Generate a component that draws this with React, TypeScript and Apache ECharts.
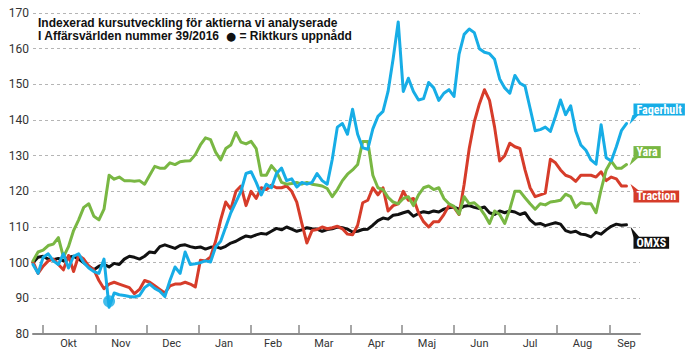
import React, { useEffect, useRef } from "react";
import * as echarts from "echarts";

const DAY = 86400000;
const d = (s: string) => {
  const [y, m, dd] = s.split("-").map(Number);
  return Date.UTC(y, m - 1, dd);
};

// sampling grid: one reading every 3 days from 25 Sep 2016
const startDate = "2016-09-25";
const stepDays = 3;
const xMin = "2016-09-25";
const xMax = "2017-09-19";

const monthTicks = [
  "2016-10-01", "2016-11-01", "2016-12-01", "2017-01-01", "2017-02-01", "2017-03-01",
  "2017-04-01", "2017-05-01", "2017-06-01", "2017-07-01", "2017-08-01", "2017-09-01",
];
const monthLabelDates = [
  "2016-10-16", "2016-11-16", "2016-12-16", "2017-01-16", "2017-02-14", "2017-03-16",
  "2017-04-16", "2017-05-16", "2017-06-16", "2017-07-16", "2017-08-16", "2017-09-11",
];
const monthLabels = ["Okt", "Nov", "Dec", "Jan", "Feb", "Mar", "Apr", "Maj", "Jun", "Jul", "Aug", "Sep"];

const omxs = [
  100, 101.5, 101.8, 101, 100.8, 101.2, 100.5, 101.5, 101.8, 101,
  100, 99, 98, 99, 99.5, 98.8, 99.8, 99.5, 101, 101.8,
  101.5, 101, 101.8, 103, 102.8, 104.5, 105, 104.5, 104, 104.8,
  105, 104.5, 104.2, 104.4, 103.8, 104.3, 104.5, 104, 104.6, 105.5,
  106, 106.8, 107.5, 107.2, 107.8, 108.2, 108, 108.8, 109.6, 109.2,
  110, 109.4, 108.8, 109.2, 109.8, 109.5, 109.4, 108.8, 109.3, 109.5,
  110, 109.8, 109.4, 108.6, 108.8, 109.3, 109.4, 110.5, 111.8, 112.5,
  112.2, 113.3, 113.5, 114, 114.4, 113, 113.8, 114.3, 114, 114.5,
  114.2, 115, 115.4, 115.6, 115, 115.8, 116, 115.5, 115.2, 115.6,
  114, 113.5, 114.5, 114, 114.5, 114.2, 113.5, 114, 112, 110.8,
  111, 110.4, 110.8, 111.2, 110.8, 109, 108.5, 108.8, 108, 107.8,
  107.2, 108.5, 108, 109.2, 110.2, 110.8, 110.5, 110.6,
];

const traction = [
  100.2, 97, 99, 100.5, 101, 99.5, 98, 102, 97.5, 102,
  101, 99, 98, 95, 92.7, 94, 94.5, 94, 93.5, 93,
  91.3, 92.5, 95, 94.5, 93.5, 92.5, 91.5, 93.5, 94, 94,
  94.5, 94, 93.2, 100.7, 100.5, 101.6, 106, 112, 117, 115,
  120, 121.5, 116, 120, 118, 121, 120.5, 121.7, 121, 121,
  121.5, 120, 117, 111, 105.5, 109, 109.3, 110, 109.5, 109.8,
  110.2, 109.5, 108, 107.8, 110.5, 116.8, 117.5, 121, 119, 121,
  114.5, 116, 116.5, 120, 117.5, 118, 114, 111.5, 110, 111.5,
  111.5, 113.5, 116, 115.5, 113.5, 122, 132, 139.5, 144.5, 148.5,
  145.5, 138, 128.5, 130, 133.5, 132.5, 132, 126, 121, 118.5,
  119, 119.5, 129, 128, 126, 124.5, 124, 122.8, 124.5, 124.5,
  124.5, 124, 125.5, 123, 124, 123.5, 121.5, 121.5,
];

const yara = [
  100.5, 103, 103.5, 104.8, 105.2, 107, 101.6, 104.5, 109, 112,
  115.5, 116.5, 113, 112, 115, 124.5, 123.4, 124, 123, 123,
  122.8, 123, 122, 124.5, 127, 126.5, 126.5, 128, 127.5, 128.3,
  128.5, 128.6, 130.3, 133, 135, 134.5, 131, 128.8, 132, 133,
  136.5, 133.8, 133.3, 134, 132, 124.5, 124.5, 127.2, 125.5, 122.5,
  122, 122.2, 122.5, 122, 122.5, 122, 121.8, 121.5, 120.8, 118.5,
  120.5, 123, 124.8, 126, 127.5, 134, 134, 124.5, 121, 120.5,
  118.3, 117, 116.5, 118, 118.5, 116, 119, 121, 121.5, 120.5,
  121, 118, 116.5, 115.8, 113.6, 118.5, 116.5, 116.8, 115.5, 113.5,
  111, 114.5, 113.5, 111, 115, 120, 120, 118.2, 116.5, 115,
  116.5, 116.2, 117, 117.2, 117.5, 119.2, 118.5, 115.5, 116.8, 116.5,
  116.5, 114, 120.5, 126, 128.5, 126.5, 126.5, 127.5,
];

const fagerhult = [
  99.5, 97, 101.5, 102.5, 100.5, 99.5, 102.5, 98.5, 101.8, 102.5,
  100, 98.5, 97.5, 97, 101, 87.5, 91.5, 91, 90.8, 90.5,
  90.4, 90.8, 93, 94, 92.8, 92, 90.5, 95, 98.8, 97,
  103, 99.5, 99.7, 100, 100.5, 100.2, 104.4, 106, 110, 114,
  117, 120, 125, 125.5, 122.5, 119, 122, 121, 125, 126.5,
  123, 123.5, 121.2, 122.5, 122, 122.5, 125, 123, 122, 129,
  138, 139, 136, 143, 136, 132.2, 131.8, 137.5, 141, 142.4,
  148, 157.2, 167.5, 148, 151.7, 148, 145.6, 146, 150.5, 149,
  145.5, 147.5, 148.5, 146.6, 158.5, 164, 165.5, 164.5, 160, 159,
  158.6, 157, 151.5, 149, 147.5, 152.5, 150.3, 149.5, 143.3, 137,
  137.3, 138, 136.8, 141, 145.6, 141.5, 144, 136.9, 133, 131.5,
  128.8, 127.6, 138.7, 129.4, 128.5, 132.5, 137, 139,
];

const targetDate = "2016-11-09";
const targetValue = 89.2;

const titleLine1 = "Indexerad kursutveckling för aktierna vi analyserade";
const titleLine2a = "I Affärsvärlden nummer 39/2016  ";
const titleDot = "●";
const titleLine2b = " = Riktkurs uppnådd";

const colors = { omxs: "#111111", traction: "#d63c2a", yara: "#79b743", fagerhult: "#17ade6" };
const FONT = "'Liberation Sans Narrow', 'Roboto Condensed', Roboto, sans-serif";
const TFONT = "'Liberation Sans', Arial, Roboto, sans-serif";
const AXFONT = "Roboto, 'Open Sans', sans-serif";

export default function App() {
  const ref = useRef<HTMLDivElement>(null);
  useEffect(() => {
    if (!ref.current) return;
    const chart = echarts.init(ref.current, undefined, { renderer: "svg" });
    const t0 = d(startDate);
    const toPairs = (arr: number[]) => arr.map((v, i) => [t0 + i * stepDays * DAY, v]);
    const labelTs = monthLabelDates.map(d);

    const mk = (
      name: string,
      data: number[],
      color: string,
      z: number,
      labelOffset: number[],
      tailDown: boolean,
      tailH: number,
      tailOffset: number[]
    ) => {
      const pairs = toPairs(data);
      const last = pairs[pairs.length - 1];
      return {
        name,
        type: "line",
        data: pairs,
        showSymbol: false,
        symbol: "none",
        z,
        lineStyle: { color, width: 3, join: "round", cap: "round" },
        itemStyle: { color },
        emphasis: { disabled: true },
        endLabel: {
          show: true,
          formatter: name,
          offset: labelOffset,
          color: "#fff",
          backgroundColor: color,
          fontFamily: FONT,
          fontWeight: "bold",
          fontSize: 12,
          lineHeight: 12,
          padding: [0, 3, 0, 3],
        },
        markPoint: {
          silent: true,
          label: { show: false },
          itemStyle: { color },
          data: [
            {
              coord: last,
              symbol: tailDown ? "path://M0,10 L3,0 L9,0 Z" : "path://M0,0 L3,10 L9,10 Z",
              symbolSize: [9, tailH],
              symbolOffset: tailOffset,
            },
          ],
        },
      };
    };

    chart.setOption({
      animation: false,
      backgroundColor: "#ffffff",
      title: {
        text: `${titleLine1}\n${titleLine2a}{dot|${titleDot}}${titleLine2b}`,
        left: 33,
        top: 11,
        textStyle: {
          fontFamily: TFONT,
          fontWeight: "bold",
          fontSize: 12,
          lineHeight: 13.6,
          color: "#111",
          rich: {
            dot: { fontFamily: "'DejaVu Sans', sans-serif", fontSize: 11.5, lineHeight: 13.6, color: "#111" },
          },
        },
      },
      grid: { left: 33, right: 60, top: 13, bottom: 22, containLabel: false },
      xAxis: {
        type: "value",
        min: d(xMin),
        max: d(xMax),
        axisLine: { show: true, lineStyle: { color: "#8a8a8a", width: 2 } },
        axisTick: {
          show: true,
          inside: true,
          length: 9,
          customValues: monthTicks.map(d),
          lineStyle: { color: "#8a8a8a", width: 1.5 },
        },
        axisLabel: {
          customValues: labelTs,
          margin: 4,
          color: "#333",
          fontFamily: AXFONT,
          fontSize: 11,
          formatter: (v: number) => {
            const idx = labelTs.findIndex((t) => Math.abs(t - v) < DAY);
            return idx >= 0 ? monthLabels[idx] : "";
          },
        },
        splitLine: { show: false },
      },
      yAxis: {
        type: "value",
        min: 80,
        max: 170,
        interval: 10,
        axisLine: { show: false },
        axisTick: { show: false },
        axisLabel: { margin: 4, color: "#333", fontFamily: AXFONT, fontSize: 12 },
        splitLine: { show: true, lineStyle: { color: "#b5b5b5", width: 1, type: [3, 3] } },
      },
      series: [
        mk("OMXS", omxs, colors.omxs, 2, [-1, 18], false, 10.5, [8.5, 7.25]),
        mk("Traction", traction, colors.traction, 3, [-1, 10.5], false, 7, [8.5, 1.5]),
        mk("Yara", yara, colors.yara, 4, [-1, -12.5], true, 8, [7.5, -3]),
        mk("Fagerhult", fagerhult, colors.fagerhult, 5, [-1, -14], true, 9.5, [7.5, -3.75]),
        {
          name: "Riktkurs uppnådd",
          type: "scatter",
          z: 6,
          data: [[d(targetDate), targetValue]],
          symbol: "circle",
          symbolSize: 12,
          itemStyle: { color: colors.fagerhult },
          silent: true,
        },
      ],
    });
    return () => chart.dispose();
  }, []);
  return (
    <div
      ref={ref}
      style={{ position: "absolute", left: 0, top: 0, width: 700, height: 356, background: "#fff" }}
    />
  );
}
